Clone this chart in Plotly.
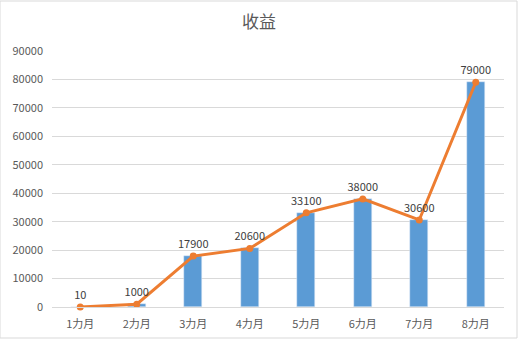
import plotly.graph_objects as go

categories = ["1力月", "2力月", "3力月", "4力月", "5力月", "6力月", "7力月", "8力月"]
bar_values = [10, 1000, 17900, 20600, 33100, 38000, 30600, 79000]
line_values = [10, 1000, 17900, 20600, 33100, 38000, 30600, 79000]
y_ticks = [0, 10000, 20000, 30000, 40000, 50000, 60000, 70000, 80000, 90000]

font_family = "Noto Sans CJK SC, Noto Sans, sans-serif"

fig = go.Figure()
fig.add_trace(go.Bar(
    x=categories, y=bar_values, marker_color="#5B9BD5", width=0.32,
    showlegend=False, hoverinfo="skip"))
fig.add_trace(go.Scatter(
    x=categories, y=line_values, mode="lines+markers+text",
    line=dict(color="#ED7D31", width=3), marker=dict(color="#ED7D31", size=7),
    text=[str(v) for v in line_values], textposition="top center",
    textfont=dict(size=11, color="#404040", family=font_family),
    showlegend=False, cliponaxis=False))

fig.update_layout(
    width=518, height=339,
    margin=dict(l=52, r=14, t=51, b=32),
    paper_bgcolor="white", plot_bgcolor="white",
    title=dict(text="收益", x=0.5, xanchor="center", y=1 - 22 / 339, yanchor="middle",
               font=dict(size=17, color="#595959", family=font_family)),
    font=dict(family=font_family, color="#595959", size=11),
    xaxis=dict(showgrid=False, showline=True, linecolor="#D9D9D9", linewidth=1,
               ticks="", ticklabelstandoff=7, automargin=False,
               tickfont=dict(size=11, color="#595959")),
    yaxis=dict(range=[0, 90000], tickvals=y_ticks, ticktext=[str(v) for v in y_ticks],
               showgrid=True, gridcolor="#D9D9D9", automargin=False,
               gridwidth=1, zeroline=False, ticks="", ticklabelstandoff=8,
               tickfont=dict(size=11, color="#595959")),
    bargap=0,
)
fig.add_shape(type="rect", xref="paper", yref="paper", x0=-52/452, x1=1 + 13/452,
              y0=-31/256, y1=1 + 50/256, line=dict(color="#D9D9D9", width=1))

fig.write_html("out.html")
